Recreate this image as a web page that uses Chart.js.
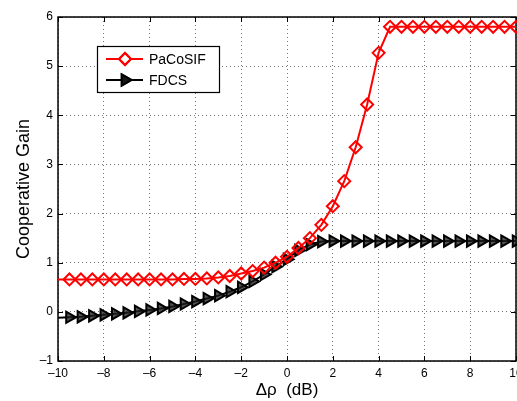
<!DOCTYPE html>
<html>
<head>
<meta charset="utf-8">
<script src="https://cdn.jsdelivr.net/npm/chart.js@4/dist/chart.umd.min.js"></script>
<style>
  body { margin: 0; background: #fff; }
  canvas { display: block; }
</style>
</head>
<body>
<canvas id="gainChart" width="517" height="401"></canvas>
<script>
// delta rho in dB
let deltaRho = [-10, -9.5, -9, -8.5, -8, -7.5, -7, -6.5, -6, -5.5, -5, -4.5, -4, -3.5, -3, -2.5, -2, -1.5, -1, -0.5,
    0, 0.5, 1, 1.5, 2, 2.5, 3, 3.5, 4, 4.5, 5, 5.5, 6, 6.5, 7, 7.5, 8, 8.5, 9, 9.5, 10];

let pacosifGain = [0.66, 0.66, 0.66, 0.66, 0.66, 0.66, 0.66, 0.66, 0.66, 0.66, 0.66, 0.67, 0.67, 0.68, 0.70, 0.73, 0.78, 0.83, 0.90, 1.00,
    1.12, 1.30, 1.50, 1.77, 2.15, 2.66, 3.35, 4.22, 5.27, 5.8, 5.8, 5.8, 5.8, 5.8, 5.8, 5.8, 5.8, 5.8, 5.8, 5.8, 5.8];

let fdcsGain = [-0.12, -0.11, -0.10, -0.08, -0.06, -0.04, -0.02, 0.01, 0.04, 0.07, 0.11, 0.16, 0.21, 0.27, 0.33, 0.41, 0.50, 0.62, 0.76, 0.92,
    1.07, 1.25, 1.37, 1.43, 1.44, 1.44, 1.44, 1.44, 1.44, 1.44, 1.44, 1.44, 1.44, 1.44, 1.44, 1.44, 1.44, 1.44, 1.44, 1.44, 1.44];

let seriesNames = ['PaCoSIF', 'FDCS'];
let xTicks = [-10, -8, -6, -4, -2, 0, 2, 4, 6, 8, 10];
let yTicks = [-1, 0, 1, 2, 3, 4, 5, 6];

const FONT = '"Liberation Sans", Arial, sans-serif';

function toPoints(ys) {
    return deltaRho.map((x, i) => ({ x: x, y: ys[i] }));
}

function minusSign(v) {
    return v < 0 ? '\u2013' + Math.abs(v) : '' + v;
}

// first sample only carries the line, no marker
function markerSize(r) {
    return ctx => ctx.dataIndex === 0 ? 0 : r;
}

// matlab style box with inward ticks
const boxPlugin = {
    id: 'boxPlugin',
    beforeDatasetsDraw(chart) {
        const c = chart.ctx;
        const a = chart.chartArea;
        const sx = chart.scales.x, sy = chart.scales.y;
        c.save();
        c.strokeStyle = '#000';
        c.lineWidth = 1;
        c.beginPath();
        xTicks.forEach(t => {
            const px = Math.round(sx.getPixelForValue(t)) + 0.5;
            c.moveTo(px, a.bottom); c.lineTo(px, a.bottom - 5);
            c.moveTo(px, a.top); c.lineTo(px, a.top + 5);
        });
        yTicks.forEach(t => {
            const py = Math.round(sy.getPixelForValue(t)) + 0.5;
            c.moveTo(a.left, py); c.lineTo(a.left + 5, py);
            c.moveTo(a.right, py); c.lineTo(a.right - 5, py);
        });
        c.stroke();
        c.lineWidth = 1.5;
        c.strokeRect(a.left, a.top, a.right - a.left, a.bottom - a.top);
        c.restore();
    }
};

const legendPlugin = {
    id: 'legendBox',
    afterDraw(chart) {
        const c = chart.ctx;
        const sets = chart.data.datasets;
        c.save();
        c.fillStyle = '#fff';
        c.fillRect(97, 46, 122, 46);
        c.strokeStyle = '#000';
        c.lineWidth = 1.2;
        c.strokeRect(97.5, 46.5, 122, 46);
        sets.forEach((ds, i) => {
            const y = 59 + i * 21;
            c.strokeStyle = ds.borderColor;
            c.lineWidth = 2;
            c.beginPath();
            c.moveTo(106, y); c.lineTo(143, y);
            c.stroke();
            Chart.helpers.drawPoint(c, {
                pointStyle: ds.pointStyle,
                rotation: ds.pointRotation || 0,
                radius: ds.legendRadius,
                borderWidth: 2
            }, 125, y);
            c.fillStyle = ds.pointBackgroundColor;
            c.strokeStyle = ds.borderColor;
            c.fill();
            c.stroke();
            c.fillStyle = '#000';
            c.font = '14px ' + FONT;
            c.textBaseline = 'middle';
            c.textAlign = 'left';
            c.fillText(ds.label, 149, y + 1);
        });
        c.restore();
    }
};

const gridStyle = {
    color: 'rgba(0,0,0,0.55)',
    lineWidth: 1,
    drawTicks: false
};

new Chart(document.getElementById('gainChart'), {
    type: 'line',
    data: {
        datasets: [
            {
                label: seriesNames[0],
                data: toPoints(pacosifGain),
                borderColor: '#ff0000',
                borderWidth: 2,
                pointStyle: 'rectRot',
                pointRadius: markerSize(6),
                legendRadius: 6,
                pointBorderWidth: 2,
                pointBorderColor: '#ff0000',
                pointBackgroundColor: 'rgba(255,255,255,0)',
                tension: 0,
                clip: 6
            },
            {
                label: seriesNames[1],
                data: toPoints(fdcsGain),
                borderColor: '#000000',
                borderWidth: 2,
                pointStyle: 'triangle',
                pointRotation: 90,
                rotation: 90,
                pointRadius: markerSize(6.5),
                legendRadius: 6.5,
                pointBorderWidth: 2,
                pointBorderColor: '#000000',
                pointBackgroundColor: 'rgba(30,30,30,0.75)',
                tension: 0,
                clip: 6
            }
        ]
    },
    options: {
        responsive: false,
        animation: false,
        layout: { autoPadding: false, padding: { top: 17, right: 1, left: 0, bottom: 0 } },
        plugins: {
            legend: { display: false },
            tooltip: { enabled: false }
        },
        scales: {
            x: {
                type: 'linear',
                min: -10,
                max: 10,
                afterBuildTicks: s => { s.ticks = xTicks.map(v => ({ value: v })); },
                afterFit: s => { s.height = 40; s.paddingLeft = 0; s.paddingRight = 0; },
                ticks: {
                    callback: minusSign,
                    autoSkip: false,
                    maxRotation: 0,
                    padding: 5,
                    color: '#000',
                    font: { family: FONT, size: 12 }
                },
                grid: gridStyle,
                border: { display: false, dash: [1, 3] },
                title: {
                    display: true,
                    text: '\u0394\u03c1  (dB)',
                    color: '#000',
                    font: { family: FONT, size: 17 },
                    padding: { top: 0, bottom: 0 }
                }
            },
            y: {
                min: -1,
                max: 6,
                afterBuildTicks: s => { s.ticks = yTicks.map(v => ({ value: v })); },
                afterFit: s => { s.width = 58; s.paddingTop = 0; s.paddingBottom = 0; },
                ticks: {
                    callback: minusSign,
                    padding: 5,
                    color: '#000',
                    font: { family: FONT, size: 12 }
                },
                grid: gridStyle,
                border: { display: false, dash: [1, 3] },
                title: {
                    display: true,
                    text: 'Cooperative Gain',
                    color: '#000',
                    font: { family: FONT, size: 18 },
                    padding: { top: 13, bottom: 0 }
                }
            }
        }
    },
    plugins: [boxPlugin, legendPlugin]
});
</script>
</body>
</html>
